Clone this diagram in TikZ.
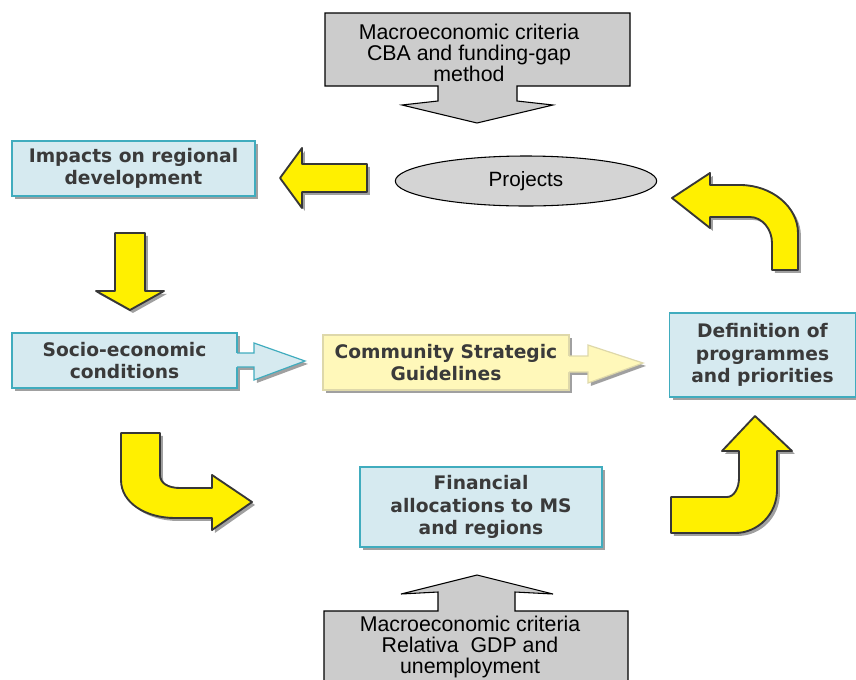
\documentclass[tikz,border=0pt]{standalone}
\usepackage{fontspec}
\setmainfont{Liberation Sans}
\newfontfamily\dejavu{DejaVu Sans}
\usetikzlibrary{shapes.geometric, shadows}

\definecolor{boxfill}{RGB}{214,234,240}
\definecolor{boxedge}{RGB}{64,172,190}
\definecolor{boxink}{RGB}{58,58,58}
\definecolor{shadowgray}{RGB}{160,160,160}
\definecolor{csgfill}{RGB}{255,248,186}
\definecolor{csgedge}{RGB}{222,216,170}
\definecolor{yellowfill}{RGB}{255,240,0}
\definecolor{yellowedge}{RGB}{55,55,55}
\definecolor{critgray}{RGB}{204,204,204}
\definecolor{projgray}{RGB}{212,212,212}

\newcommand{\boxstyle}{\dejavu\bfseries\fontsize{14}{17}\selectfont}
\newcommand{\critstyle}{\fontsize{16}{15.8}\selectfont}

\tikzstyle{boxshadow} = [drop shadow={shadow xshift=2.2pt, shadow yshift=-2.2pt, fill=shadowgray, opacity=1}]
\tikzstyle{bluebox} = [rectangle, draw=boxedge, fill=boxfill, line width=0.9pt, text=boxink, font=\boxstyle, align=center, inner sep=0pt, boxshadow]
\tikzstyle{csgbox} = [bluebox, draw=csgedge, fill=csgfill]
\tikzstyle{bigarrow} = [fill=yellowfill, draw=yellowedge, line width=1.4pt, line join=round, boxshadow]
\tikzstyle{critarrow} = [fill=critgray, draw=black, line width=0.8pt]
\tikzstyle{crit} = [align=center, font=\critstyle, inner sep=0pt]

\begin{document}
\begin{tikzpicture}[x=0.75pt, y=-0.75pt]

\useasboundingbox (0,0) rectangle (856,679);

%% GRAY CRITERIA ARROWS

\draw [critarrow] (325,13) -- (630,13) -- (630,86) -- (517,86) -- (517,101) -- (553,105) -- (477,123) -- (402,105) -- (438,101) -- (438,86) -- (325,86) -- cycle;
\draw [critarrow] (477,575) -- (553,594) -- (515,592) -- (515,611) -- (628,611) -- (628,700) -- (324,700) -- (324,611) -- (438,611) -- (438,592) -- (401,594) -- cycle;

%% NODES

\node (cbacrit) [crit] at (469,53) {Macroeconomic criteria\\CBA and funding-gap\\method};
\node (gdpcrit) [crit] at (470,647) {Macroeconomic criteria\\Relativa~ GDP and\\unemployment};

\node (projects) [ellipse, draw=black, fill=projgray, line width=0.8pt, minimum width=196pt, minimum height=37.5pt, inner sep=0pt, font=\fontsize{15.5}{18}\selectfont] at (526,181) {Projects};

\node (impacts) [bluebox, minimum width=182.25pt, minimum height=41.25pt] at (133.5,168.5) {Impacts on regional\\development};
\node (socio) [bluebox, minimum width=168.75pt, minimum height=41.25pt] at (124.5,360.5) {Socio-economic\\conditions};
\node (csg) [csgbox, minimum width=184.5pt, minimum height=41.25pt] at (446,362.5) {Community Strategic\\Guidelines};
\node (definition) [bluebox, minimum width=139pt, minimum height=63pt] at (762.5,355) {Definition of\\programmes\\and priorities};
\node (financial) [bluebox, minimum width=181.5pt, minimum height=60pt] at (481,507) {Financial\\allocations to MS\\and regions};

%% ARROWS

% arrow tails fixed to the two boxes
\path [fill=boxfill, boxshadow] (236,353) -- (254,353) -- (254,343) -- (305,361) -- (254,380) -- (254,367) -- (236,367) -- cycle;
\draw [boxedge, line width=0.9pt] (237,353) -- (254,353) -- (254,343) -- (305,361) -- (254,380) -- (254,367) -- (237,367);
\path [fill=csgfill, boxshadow] (568,356) -- (588,356) -- (588,345) -- (643,363) -- (588,383) -- (588,372) -- (568,372) -- cycle;
\draw [csgedge, line width=0.9pt] (569,356) -- (588,356) -- (588,345) -- (643,363) -- (588,383) -- (588,372) -- (569,372);

% yellow arrows round the cycle
\draw [bigarrow] (280,178) -- (302,148) -- (302,164) -- (367,164) -- (367,192) -- (302,192) -- (302,208) -- cycle;
\draw [bigarrow] (115,233) -- (145,233) -- (145,291) -- (164,291) -- (130,310) -- (96,291) -- (115,291) -- cycle;
\draw [bigarrow] (121,433) -- (160,433) -- (160,475) .. controls (160,483) and (168,488) .. (180,488) -- (212,488) -- (212,475) -- (252,502) -- (212,530) -- (212,518) -- (175,518) .. controls (146,518) and (121,503) .. (121,480) -- cycle;
\draw [bigarrow] (755,416) -- (792,451) -- (777,451) -- (777,490) .. controls (777,514) and (758,533) .. (735,533) -- (671,533) -- (671,497) -- (727,497) .. controls (734,497) and (739,488) .. (739,478) -- (739,451) -- (722,451) -- cycle;
\draw [bigarrow] (672,198) -- (710,173) -- (710,185) -- (740,185) .. controls (772,185) and (798,207) .. (798,233) -- (798,270) -- (772,270) -- (772,243) .. controls (772,229) and (762,217) .. (750,217) -- (710,217) -- (710,228) -- cycle;

\end{tikzpicture}
\end{document}
